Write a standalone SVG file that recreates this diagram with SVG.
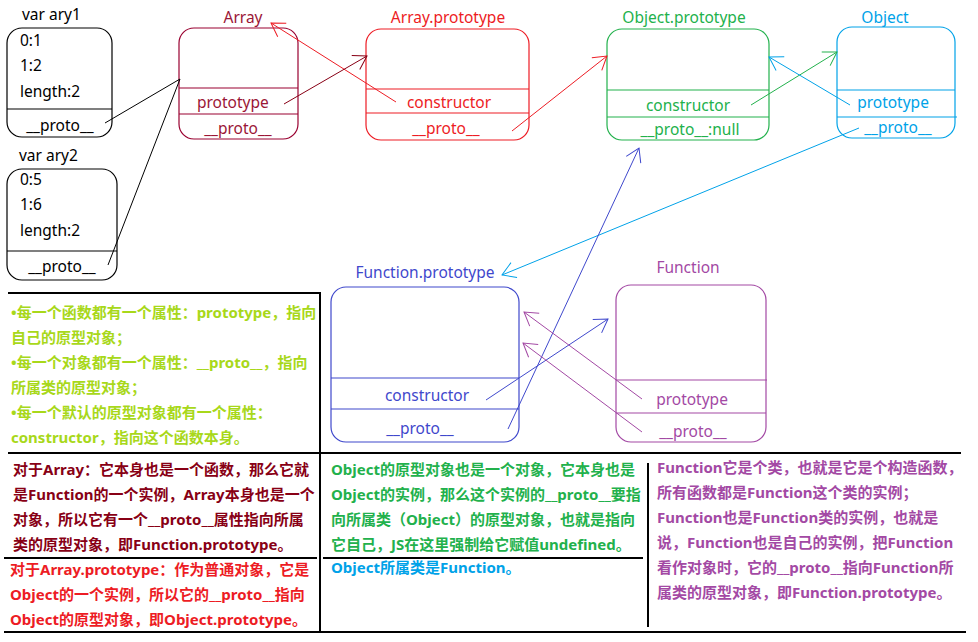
<svg xmlns="http://www.w3.org/2000/svg" width="978" height="642" viewBox="0 0 978 642">
<style>
  .lbl { font-family: "Noto Sans", "Open Sans", "Noto Sans CJK SC", sans-serif; font-size: 15.5px; }
  .note { font-family: "Noto Sans", "Noto Sans CJK SC", sans-serif; font-size: 15px; font-weight: bold; }
  .box { fill: none; stroke-width: 1.2; }
  .div { stroke-width: 1.2; }
  .tbl { stroke: #000; stroke-width: 2; fill: none; }
  .cn { fill: none; stroke-width: 1; }
  .mid { text-anchor: middle; }
</style>
<defs>
  <marker id="aRed" markerUnits="userSpaceOnUse" viewBox="-15 -10 16 20" markerWidth="16" markerHeight="20" refX="0" refY="0" orient="auto" overflow="visible"><path d="M-13,-8 L0,0 L-13,8" fill="none" stroke="#ed1c24" stroke-width="1"/></marker>
  <marker id="aDark" markerUnits="userSpaceOnUse" viewBox="-15 -10 16 20" markerWidth="16" markerHeight="20" refX="0" refY="0" orient="auto" overflow="visible"><path d="M-13,-8 L0,0 L-13,8" fill="none" stroke="#880015" stroke-width="1"/></marker>
  <marker id="aGreen" markerUnits="userSpaceOnUse" viewBox="-15 -10 16 20" markerWidth="16" markerHeight="20" refX="0" refY="0" orient="auto" overflow="visible"><path d="M-13,-8 L0,0 L-13,8" fill="none" stroke="#22b14c" stroke-width="1"/></marker>
  <marker id="aCyan" markerUnits="userSpaceOnUse" viewBox="-15 -10 16 20" markerWidth="16" markerHeight="20" refX="0" refY="0" orient="auto" overflow="visible"><path d="M-13,-8 L0,0 L-13,8" fill="none" stroke="#00a2e8" stroke-width="1"/></marker>
  <marker id="aBlue" markerUnits="userSpaceOnUse" viewBox="-15 -10 16 20" markerWidth="16" markerHeight="20" refX="0" refY="0" orient="auto" overflow="visible"><path d="M-13,-8 L0,0 L-13,8" fill="none" stroke="#3f48cc" stroke-width="1"/></marker>
  <marker id="aPurple" markerUnits="userSpaceOnUse" viewBox="-15 -10 16 20" markerWidth="16" markerHeight="20" refX="0" refY="0" orient="auto" overflow="visible"><path d="M-13,-8 L0,0 L-13,8" fill="none" stroke="#a349a4" stroke-width="1"/></marker>
</defs>
<rect width="978" height="642" fill="#fff"/>

<g id="ary1">
  <text class="lbl" x="22" y="20" fill="#000">var ary1</text>
  <rect class="box" x="7" y="28" width="105" height="109" rx="15" stroke="#000"/>
  <line class="div" x1="7" y1="109" x2="112" y2="109" stroke="#000"/>
  <text class="lbl" x="20" y="46" fill="#000">0:1</text>
  <text class="lbl" x="20" y="71" fill="#000">1:2</text>
  <text class="lbl" x="20" y="97" fill="#000">length:2</text>
  <text class="lbl mid" x="60" y="131" fill="#000">__proto__</text>
</g>

<g id="ary2">
  <text class="lbl" x="19" y="161" fill="#000">var ary2</text>
  <rect class="box" x="7" y="169" width="110" height="111" rx="15" stroke="#000"/>
  <line class="div" x1="7" y1="251" x2="117" y2="251" stroke="#000"/>
  <text class="lbl" x="20" y="185" fill="#000">0:5</text>
  <text class="lbl" x="20" y="210" fill="#000">1:6</text>
  <text class="lbl" x="20" y="236" fill="#000">length:2</text>
  <text class="lbl mid" x="62" y="272" fill="#000">__proto__</text>
</g>

<g id="Array">
  <text class="lbl mid" x="243" y="23" fill="#9b1636">Array</text>
  <rect class="box" x="179" y="28" width="119" height="111" rx="15" stroke="#990030"/>
  <line class="div" x1="179" y1="88" x2="298" y2="88" stroke="#990030"/>
  <line class="div" x1="179" y1="114" x2="298" y2="114" stroke="#990030"/>
  <text class="lbl" x="197" y="108" fill="#9b1636">prototype</text>
  <text class="lbl mid" x="238" y="134" fill="#9b1636">__proto__</text>
</g>

<g id="ArrayPrototype">
  <text class="lbl mid" x="448" y="23" fill="#ed1c24">Array.prototype</text>
  <rect class="box" x="366" y="29" width="163" height="111" rx="15" stroke="#ed1c24"/>
  <line class="div" x1="366" y1="89" x2="529" y2="89" stroke="#ed1c24"/>
  <line class="div" x1="366" y1="113" x2="529" y2="113" stroke="#ed1c24"/>
  <text class="lbl mid" x="449" y="108" fill="#ed1c24">constructor</text>
  <text class="lbl mid" x="446" y="134" fill="#ed1c24">__proto__</text>
</g>

<g id="ObjectPrototype">
  <text class="lbl mid" x="684" y="23" fill="#22b14c">Object.prototype</text>
  <rect class="box" x="607" y="29" width="162" height="111" rx="15" stroke="#22b14c"/>
  <line class="div" x1="607" y1="90" x2="769" y2="90" stroke="#22b14c"/>
  <line class="div" x1="607" y1="117" x2="769" y2="117" stroke="#22b14c"/>
  <text class="lbl mid" x="688" y="111" fill="#22b14c">constructor</text>
  <text class="lbl mid" x="690" y="135" fill="#22b14c">__proto__:null</text>
</g>

<g id="Object">
  <text class="lbl mid" x="885" y="23" fill="#00a2e8">Object</text>
  <rect class="box" x="837" y="27" width="118" height="111" rx="15" stroke="#00a2e8"/>
  <line class="div" x1="837" y1="90" x2="955" y2="90" stroke="#00a2e8"/>
  <line class="div" x1="837" y1="117" x2="957" y2="117" stroke="#00a2e8"/>
  <text class="lbl mid" x="893" y="108" fill="#00a2e8">prototype</text>
  <text class="lbl mid" x="898" y="133" fill="#00a2e8">__proto__</text>
</g>

<g id="FunctionPrototype">
  <text class="lbl mid" x="425" y="278" fill="#3f48cc">Function.prototype</text>
  <rect class="box" x="331" y="287" width="188" height="155" rx="15" stroke="#3f48cc"/>
  <line class="div" x1="331" y1="378" x2="519" y2="378" stroke="#3f48cc"/>
  <line class="div" x1="331" y1="409" x2="519" y2="409" stroke="#3f48cc"/>
  <text class="lbl mid" x="427" y="401" fill="#3f48cc">constructor</text>
  <text class="lbl mid" x="420" y="434" fill="#3f48cc">__proto__</text>
</g>

<g id="Function">
  <text class="lbl mid" x="688" y="273" fill="#a349a4">Function</text>
  <rect class="box" x="616" y="285" width="150" height="157" rx="15" stroke="#a349a4"/>
  <line class="div" x1="616" y1="380" x2="767" y2="380" stroke="#a349a4"/>
  <line class="div" x1="616" y1="413" x2="766" y2="413" stroke="#a349a4"/>
  <text class="lbl mid" x="692" y="405" fill="#a349a4">prototype</text>
  <text class="lbl mid" x="693" y="437" fill="#a349a4">__proto__</text>
</g>

<g id="connectors">
  <line class="cn" x1="105" y1="123" x2="180" y2="79" stroke="#000"/>
  <line class="cn" x1="108" y1="265" x2="180" y2="79" stroke="#000"/>
  <line class="cn" x1="396" y1="102" x2="271" y2="23" stroke="#ed1c24" marker-end="url(#aRed)"/>
  <line class="cn" x1="284" y1="104" x2="367" y2="56" stroke="#880015" marker-end="url(#aDark)"/>
  <line class="cn" x1="512" y1="131" x2="607" y2="56" stroke="#ed1c24" marker-end="url(#aRed)"/>
  <line class="cn" x1="751" y1="105" x2="837" y2="52" stroke="#22b14c" marker-end="url(#aGreen)"/>
  <line class="cn" x1="850" y1="105" x2="769" y2="57" stroke="#00a2e8" marker-end="url(#aCyan)"/>
  <line class="cn" x1="859" y1="128" x2="502" y2="275" stroke="#00a2e8" marker-end="url(#aCyan)"/>
  <line class="cn" x1="508" y1="429" x2="639" y2="148" stroke="#3f48cc" marker-end="url(#aBlue)"/>
  <line class="cn" x1="486" y1="400" x2="608" y2="319" stroke="#3f48cc" marker-end="url(#aBlue)"/>
  <line class="cn" x1="642" y1="399" x2="524" y2="312" stroke="#a349a4" marker-end="url(#aPurple)"/>
  <line class="cn" x1="642" y1="432" x2="523" y2="343" stroke="#a349a4" marker-end="url(#aPurple)"/>
</g>

<g id="table">
  <line class="tbl" x1="8" y1="293" x2="321" y2="293"/>
  <line class="tbl" x1="320" y1="293" x2="320" y2="633"/>
  <line class="tbl" x1="8" y1="453" x2="961" y2="453"/>
  <line class="tbl" x1="4" y1="558" x2="317" y2="558"/>
  <line class="tbl" x1="323" y1="558" x2="643" y2="558"/>
  <line class="tbl" x1="648" y1="463" x2="648" y2="627"/>
  <line class="tbl" x1="4" y1="632" x2="966" y2="632"/>
</g>

<g id="note-rules" class="note" fill="#a8d81a">
  <text x="11" y="318">•每一个函数都有一个属性：prototype，指向</text>
  <text x="11" y="343">自己的原型对象；</text>
  <text x="11" y="368">•每一个对象都有一个属性：__proto__，指向</text>
  <text x="11" y="393">所属类的原型对象；</text>
  <text x="11" y="418">•每一个默认的原型对象都有一个属性：</text>
  <text x="11" y="443">constructor，指向这个函数本身。</text>
</g>

<g id="note-array" class="note" fill="#880015">
  <text x="13" y="475">对于Array：它本身也是一个函数，那么它就</text>
  <text x="13" y="500">是Function的一个实例，Array本身也是一个</text>
  <text x="13" y="525">对象，所以它有一个__proto__属性指向所属</text>
  <text x="13" y="550">类的原型对象，即Function.prototype。</text>
</g>

<g id="note-array-prototype" class="note" fill="#ed1c24">
  <text x="10" y="575">对于Array.prototype：作为普通对象，它是</text>
  <text x="10" y="600">Object的一个实例，所以它的__proto__指向</text>
  <text x="10" y="625">Object的原型对象，即Object.prototype。</text>
</g>

<g id="note-object-prototype" class="note" fill="#22b14c">
  <text x="331" y="475">Object的原型对象也是一个对象，它本身也是</text>
  <text x="331" y="500">Object的实例，那么这个实例的__proto__要指</text>
  <text x="331" y="525">向所属类（Object）的原型对象，也就是指向</text>
  <text x="331" y="550">它自己，JS在这里强制给它赋值undefined。</text>
</g>

<g id="note-object" class="note" fill="#00a2e8">
  <text x="331" y="573">Object所属类是Function。</text>
</g>

<g id="note-function" class="note" fill="#a349a4">
  <text x="657" y="473">Function它是个类，也就是它是个构造函数，</text>
  <text x="657" y="498">所有函数都是Function这个类的实例；</text>
  <text x="657" y="523">Function也是Function类的实例，也就是</text>
  <text x="657" y="548">说，Function也是自己的实例，把Function</text>
  <text x="657" y="573">看作对象时，它的__proto__指向Function所</text>
  <text x="657" y="598">属类的原型对象，即Function.prototype。</text>
</g>
</svg>
